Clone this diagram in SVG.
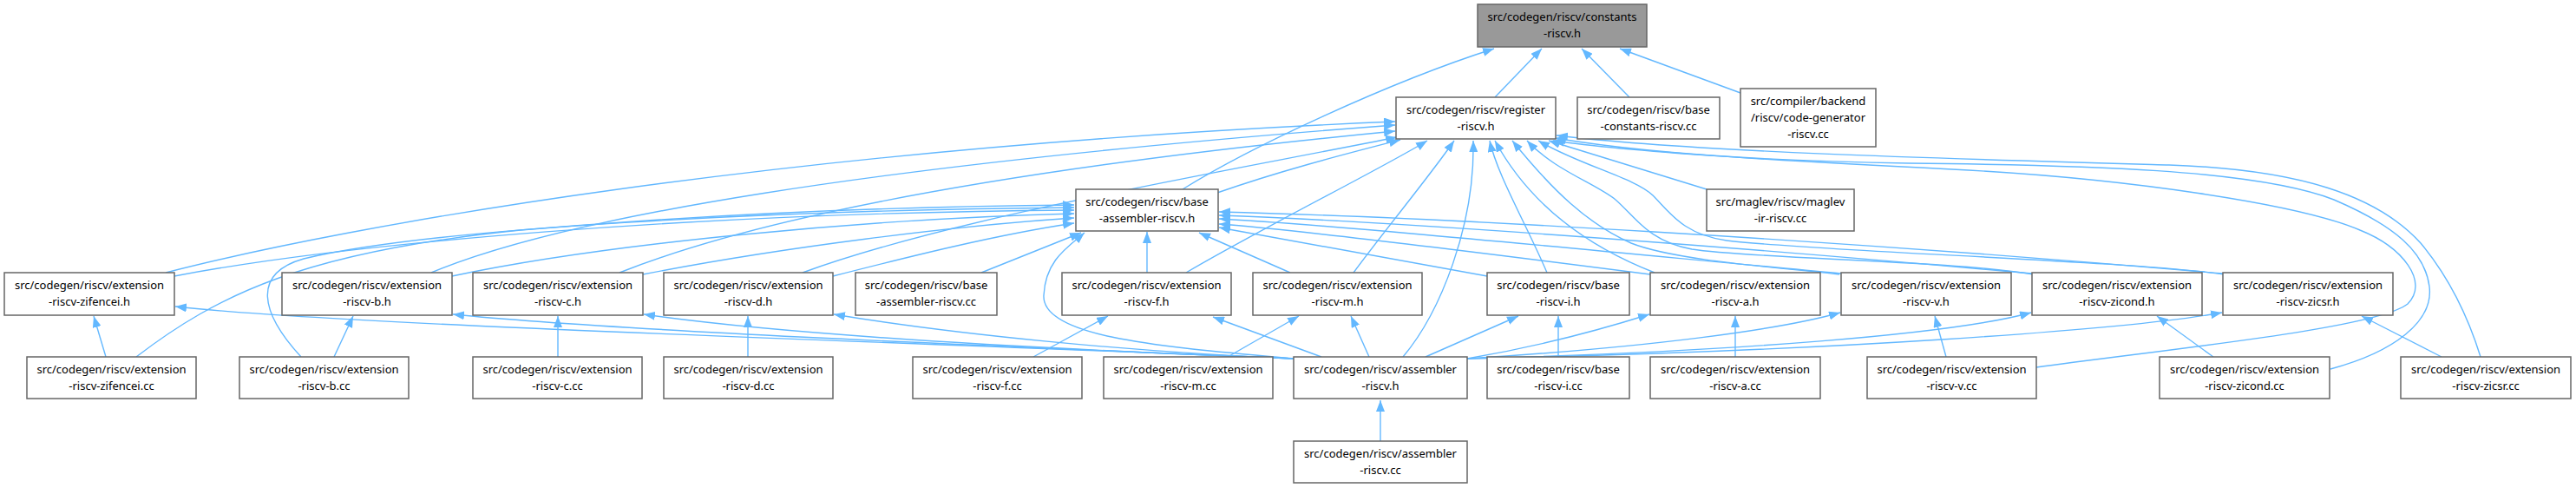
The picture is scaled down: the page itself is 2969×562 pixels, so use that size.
<svg xmlns="http://www.w3.org/2000/svg" width="2969" height="562" viewBox="0 0 2969 562">
<defs>
<marker id="ah" viewBox="0 0 13 10" refX="13" refY="5" markerWidth="13" markerHeight="10" markerUnits="userSpaceOnUse" orient="auto"><path d="M0,0 L13,5 L0,10 z" fill="#63b8ff"/></marker>
<style>
.n rect{fill:#ffffff;stroke:#666666;stroke-width:1.5}
.n.cur rect{fill:#999999}
.n text{font-family:"Noto Sans","DejaVu Sans",sans-serif;font-size:13px;fill:#000000;text-anchor:middle}
#edges path{fill:none;stroke:#63b8ff;stroke-width:1.4;marker-end:url(#ah)}
</style>
</defs>
<rect width="2969" height="562" fill="#ffffff"/>
<g id="edges">
<path d="M1723,112 L1777,56"/>
<path d="M1878,112 L1823,56"/>
<path d="M2006,107 L1867,56"/>
<path d="M1363,218 C1440,170 1600,95 1722,56"/>
<path d="M191,314 C400,260 900,170 1608,140"/>
<path d="M497,314 C650,250 1000,190 1608,144"/>
<path d="M714,314 C850,260 1100,200 1608,151"/>
<path d="M925,314 C1100,250 1400,200 1610,158"/>
<path d="M1403,222 C1480,195 1560,175 1614,161"/>
<path d="M1367,314 C1450,265 1600,190 1645,162"/>
<path d="M1560,314 C1600,260 1650,200 1676,162"/>
<path d="M1617,411 C1660,360 1700,260 1698,162"/>
<path d="M1783,314 C1760,260 1725,200 1717,162"/>
<path d="M1907,314 C1820,280 1760,230 1723,162"/>
<path d="M2120,316 C2050,308 1930,300 1880,280 C1830,258 1790,220 1743,162"/>
<path d="M2344,316 C2250,300 2020,298 1950,287 C1900,278 1885,250 1862,230 C1840,212 1790,195 1760,162"/>
<path d="M2564,316 C2450,300 2100,290 1990,277 C1940,270 1925,245 1905,225 C1885,205 1820,190 1773,162"/>
<path d="M1967,218 L1785,162"/>
<path d="M2347,423 C2500,402 2740,378 2775,350 C2800,325 2770,285 2720,265 C2650,235 2450,205 2250,195 C2050,185 1880,175 1790,162"/>
<path d="M2686,425 C2760,405 2805,370 2800,330 C2795,290 2760,260 2690,230 C2600,195 2400,190 2200,188 C2000,185 1870,172 1792,159"/>
<path d="M2859,411 C2840,350 2815,310 2790,280 C2740,225 2650,195 2500,190 C2250,183 1950,175 1794,156"/>
<path d="M157,411 C250,340 350,290 600,265 C800,248 1000,238 1238,236"/>
<path d="M347,411 C300,360 290,315 350,298 C500,262 900,242 1238,239"/>
<path d="M201,318 C400,280 800,245 1238,242"/>
<path d="M521,318 C700,280 1000,252 1238,246"/>
<path d="M741,316 C900,285 1100,260 1238,251"/>
<path d="M960,318 C1050,295 1150,270 1238,257"/>
<path d="M1131,314 L1246,268"/>
<path d="M1491,413 C1350,400 1200,390 1203,340 C1205,300 1230,285 1250,268"/>
<path d="M1322,314 L1322,267"/>
<path d="M1487,314 L1382,268"/>
<path d="M1714,318 L1405,262"/>
<path d="M1902,316 C1700,290 1500,265 1405,258"/>
<path d="M2122,315 C1800,285 1550,260 1405,252"/>
<path d="M2342,315 C1950,280 1600,255 1405,248"/>
<path d="M2562,315 C2100,275 1650,250 1405,244"/>
<path d="M1491,413 C1000,392 400,375 202,353"/>
<path d="M1491,413 C1100,397 700,380 522,362"/>
<path d="M1491,413 C1200,402 900,385 742,362"/>
<path d="M1491,413 C1300,405 1100,385 961,362"/>
<path d="M1523,411 L1398,365"/>
<path d="M1578,411 L1557,364"/>
<path d="M1643,411 L1750,364"/>
<path d="M1691,413 C1780,398 1850,378 1901,362"/>
<path d="M1691,413 C1900,400 2050,380 2121,360"/>
<path d="M1691,413 C2000,405 2250,385 2341,360"/>
<path d="M1691,413 C2100,405 2450,380 2561,360"/>
<path d="M122,411 L108,364"/>
<path d="M385,411 L407,364"/>
<path d="M643,411 L643,364"/>
<path d="M862,411 L862,364"/>
<path d="M1191,411 L1277,364"/>
<path d="M1415,411 L1497,364"/>
<path d="M1796,411 L1796,364"/>
<path d="M2000,411 L2000,364"/>
<path d="M2243,411 L2230,364"/>
<path d="M2551,411 L2486,364"/>
<path d="M2814,411 L2722,364"/>
<path d="M1591,508 L1591,461"/>
</g>
<g id="n_constants" class="n cur"><rect x="1703" y="5" width="195" height="49"/><text x="1800.5" y="24">src/codegen/riscv/constants</text><text x="1800.5" y="43">-riscv.h</text></g>
<g id="n_register" class="n"><rect x="1609" y="112" width="184" height="48"/><text x="1701" y="131">src/codegen/riscv/register</text><text x="1701" y="150">-riscv.h</text></g>
<g id="n_base_constants_cc" class="n"><rect x="1818" y="112" width="164" height="48"/><text x="1900" y="131">src/codegen/riscv/base</text><text x="1900" y="150">-constants-riscv.cc</text></g>
<g id="n_code_generator_cc" class="n"><rect x="2006" y="102" width="156" height="67"/><text x="2084" y="121">src/compiler/backend</text><text x="2084" y="140">/riscv/code-generator</text><text x="2084" y="159">-riscv.cc</text></g>
<g id="n_base_assembler_h" class="n"><rect x="1240" y="218" width="164" height="48"/><text x="1322" y="237">src/codegen/riscv/base</text><text x="1322" y="256">-assembler-riscv.h</text></g>
<g id="n_maglev_cc" class="n"><rect x="1967" y="218" width="170" height="48"/><text x="2052" y="237">src/maglev/riscv/maglev</text><text x="2052" y="256">-ir-riscv.cc</text></g>
<g id="n_zifencei_h" class="n"><rect x="5" y="314" width="196" height="49"/><text x="103" y="333">src/codegen/riscv/extension</text><text x="103" y="352">-riscv-zifencei.h</text></g>
<g id="n_b_h" class="n"><rect x="325" y="314" width="196" height="49"/><text x="423" y="333">src/codegen/riscv/extension</text><text x="423" y="352">-riscv-b.h</text></g>
<g id="n_c_h" class="n"><rect x="545" y="314" width="196" height="49"/><text x="643" y="333">src/codegen/riscv/extension</text><text x="643" y="352">-riscv-c.h</text></g>
<g id="n_d_h" class="n"><rect x="765" y="314" width="195" height="49"/><text x="862.5" y="333">src/codegen/riscv/extension</text><text x="862.5" y="352">-riscv-d.h</text></g>
<g id="n_base_assembler_cc" class="n"><rect x="986" y="314" width="163" height="49"/><text x="1067.5" y="333">src/codegen/riscv/base</text><text x="1067.5" y="352">-assembler-riscv.cc</text></g>
<g id="n_f_h" class="n"><rect x="1224" y="314" width="195" height="49"/><text x="1321.5" y="333">src/codegen/riscv/extension</text><text x="1321.5" y="352">-riscv-f.h</text></g>
<g id="n_m_h" class="n"><rect x="1444" y="314" width="195" height="49"/><text x="1541.5" y="333">src/codegen/riscv/extension</text><text x="1541.5" y="352">-riscv-m.h</text></g>
<g id="n_i_h" class="n"><rect x="1714" y="314" width="164" height="49"/><text x="1796" y="333">src/codegen/riscv/base</text><text x="1796" y="352">-riscv-i.h</text></g>
<g id="n_a_h" class="n"><rect x="1902" y="314" width="196" height="49"/><text x="2000" y="333">src/codegen/riscv/extension</text><text x="2000" y="352">-riscv-a.h</text></g>
<g id="n_v_h" class="n"><rect x="2122" y="314" width="196" height="49"/><text x="2220" y="333">src/codegen/riscv/extension</text><text x="2220" y="352">-riscv-v.h</text></g>
<g id="n_zicond_h" class="n"><rect x="2342" y="314" width="196" height="49"/><text x="2440" y="333">src/codegen/riscv/extension</text><text x="2440" y="352">-riscv-zicond.h</text></g>
<g id="n_zicsr_h" class="n"><rect x="2562" y="314" width="196" height="49"/><text x="2660" y="333">src/codegen/riscv/extension</text><text x="2660" y="352">-riscv-zicsr.h</text></g>
<g id="n_zifencei_cc" class="n"><rect x="31" y="411" width="195" height="48"/><text x="128.5" y="430">src/codegen/riscv/extension</text><text x="128.5" y="449">-riscv-zifencei.cc</text></g>
<g id="n_b_cc" class="n"><rect x="276" y="411" width="195" height="48"/><text x="373.5" y="430">src/codegen/riscv/extension</text><text x="373.5" y="449">-riscv-b.cc</text></g>
<g id="n_c_cc" class="n"><rect x="545" y="411" width="195" height="48"/><text x="642.5" y="430">src/codegen/riscv/extension</text><text x="642.5" y="449">-riscv-c.cc</text></g>
<g id="n_d_cc" class="n"><rect x="765" y="411" width="195" height="48"/><text x="862.5" y="430">src/codegen/riscv/extension</text><text x="862.5" y="449">-riscv-d.cc</text></g>
<g id="n_f_cc" class="n"><rect x="1052" y="411" width="195" height="48"/><text x="1149.5" y="430">src/codegen/riscv/extension</text><text x="1149.5" y="449">-riscv-f.cc</text></g>
<g id="n_m_cc" class="n"><rect x="1272" y="411" width="195" height="48"/><text x="1369.5" y="430">src/codegen/riscv/extension</text><text x="1369.5" y="449">-riscv-m.cc</text></g>
<g id="n_assembler_h" class="n"><rect x="1491" y="411" width="200" height="48"/><text x="1591" y="430">src/codegen/riscv/assembler</text><text x="1591" y="449">-riscv.h</text></g>
<g id="n_i_cc" class="n"><rect x="1714" y="411" width="164" height="48"/><text x="1796" y="430">src/codegen/riscv/base</text><text x="1796" y="449">-riscv-i.cc</text></g>
<g id="n_a_cc" class="n"><rect x="1902" y="411" width="196" height="48"/><text x="2000" y="430">src/codegen/riscv/extension</text><text x="2000" y="449">-riscv-a.cc</text></g>
<g id="n_v_cc" class="n"><rect x="2152" y="411" width="195" height="48"/><text x="2249.5" y="430">src/codegen/riscv/extension</text><text x="2249.5" y="449">-riscv-v.cc</text></g>
<g id="n_zicond_cc" class="n"><rect x="2489" y="411" width="196" height="48"/><text x="2587" y="430">src/codegen/riscv/extension</text><text x="2587" y="449">-riscv-zicond.cc</text></g>
<g id="n_zicsr_cc" class="n"><rect x="2767" y="411" width="196" height="48"/><text x="2865" y="430">src/codegen/riscv/extension</text><text x="2865" y="449">-riscv-zicsr.cc</text></g>
<g id="n_assembler_cc" class="n"><rect x="1491" y="508" width="200" height="48"/><text x="1591" y="527">src/codegen/riscv/assembler</text><text x="1591" y="546">-riscv.cc</text></g>
</svg>
